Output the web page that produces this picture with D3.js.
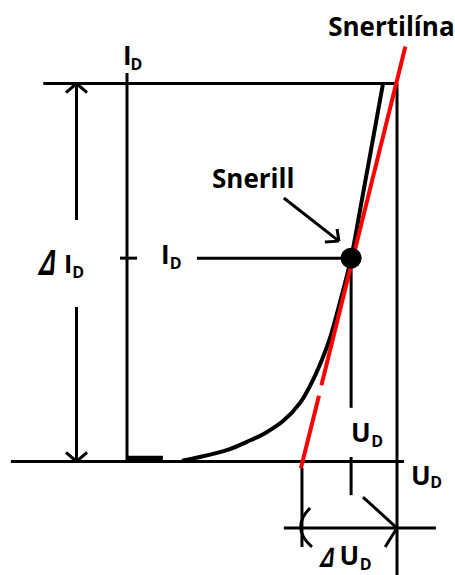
<!DOCTYPE html>
<html>
<head>
<meta charset="utf-8">
<script src="https://cdn.jsdelivr.net/npm/d3@7"></script>
<style>
  body { margin: 0; background: #fff; }
  text { font-family: "Open Sans", "Liberation Sans", sans-serif; font-weight: bold; fill: #000; }
</style>
</head>
<body>
<script>
(function(){

  //diode curve (U in % of span, I in % of span)
  var footU = [0, 13.3]; //flat start of the curve
  var footI = [0.9, 0.9];
  var curveU = [20.4, 27.0, 38.1, 44.4, 51.1, 57.8, 64.1, 68.9, 72.2, 75.2, 78.9, 83.0, 87.0, 94.8];
  var curveI = [0.2, 1.2, 3.3, 5.2, 7.5, 10.7, 15.5, 21.6, 26.9, 32.7, 42.2, 53.8, 69.2, 99.9];

  //operating point
  var pointU = 83.0, pointI = 53.8;

  //tangent line (two pieces, gap near the bottom)
  var tangentU = [[64.4, 71.1], [72.0, 103.1]];
  var tangentI = [[-1.8, 17.4], [20.2, 109.8]];

  //guide lines [u1, i1, u2, i2]
  var guides = [
    [-31, 100, 100, 100],      //top line
    [-43, 0, 102.6, 0],        //U axis
    [0, 102.8, 0, 0],          //I axis
    [100, 100, 100, -30.5],    //right line
    [-2.6, 53.8, 3.7, 53.8],   //tick on I axis
    [25.9, 53.8, 83.0, 53.8],  //leader from I label
    [83.0, 53.8, 83.0, 14.2],  //drop line
    [83.0, 1.2, 83.0, -8.9],   //drop line below axis
    [-18.7, 100, -18.7, 63.9], //delta I dimension
    [-18.7, 40.9, -18.7, 0],
    [-22.6, 97.6, -18.7, 100], //arrow heads
    [-14.8, 97.6, -18.7, 100],
    [-22.6, 2.4, -18.7, 0],
    [-14.8, 2.4, -18.7, 0],
    [64.8, -1.7, 64.8, -22.6], //delta U dimension
    [58.1, -17.6, 114.4, -17.6],
    [87.4, -9.4, 100, -17.6],
    [95.6, -22.6, 100, -17.6],
    [58.1, 69.7, 78.5, 58.3],  //arrow to operating point
    [73.3, 58.1, 78.5, 58.3],
    [77.8, 61.5, 78.5, 58.3]
  ];

  //the "(" on the left end of the delta U dimension: start, control, end
  var bracketU = [67.8, 60.5, 68.5];
  var bracketI = [-12.3, -17.6, -22.6];

  var width = 455,
      height = 575;

  var svg = d3.select("body")
    .append("svg")
    .attr("width", width)
    .attr("height", height);

  var x = d3.scaleLinear() //U_D
    .domain([0, 100])
    .range([127, 397]);

  var y = d3.scaleLinear() //I_D
    .domain([0, 100])
    .range([461.5, 83.5]);

  //guide lines
  svg.selectAll(".guide")
    .data(guides)
    .enter()
    .append("line")
    .attr("class", "guide")
    .attr("x1", function(d){ return x(d[0]); })
    .attr("y1", function(d){ return y(d[1]); })
    .attr("x2", function(d){ return x(d[2]); })
    .attr("y2", function(d){ return y(d[3]); })
    .attr("stroke", "#000")
    .attr("stroke-width", 3);

  var bracket = d3.path();
  bracket.moveTo(x(bracketU[0]), y(bracketI[0]));
  bracket.quadraticCurveTo(x(bracketU[1]), y(bracketI[1]), x(bracketU[2]), y(bracketI[2]));
  svg.append("path")
    .attr("d", bracket.toString())
    .attr("fill", "none")
    .attr("stroke", "#000")
    .attr("stroke-width", 3);

  //curve
  var line = d3.line()
    .x(function(d){ return x(d[0]); })
    .y(function(d){ return y(d[1]); });

  svg.append("path")
    .datum(d3.zip(footU, footI))
    .attr("d", line)
    .attr("fill", "none")
    .attr("stroke", "#000")
    .attr("stroke-width", 4.5);

  svg.append("path")
    .datum(d3.zip(curveU, curveI))
    .attr("d", line.curve(d3.curveCatmullRom.alpha(0.5)))
    .attr("fill", "none")
    .attr("stroke", "#000")
    .attr("stroke-width", 4);

  //tangent
  svg.selectAll(".tangent")
    .data(tangentU.map(function(u, k){ return d3.zip(u, tangentI[k]); }))
    .enter()
    .append("path")
    .attr("class", "tangent")
    .attr("d", d3.line().x(function(d){ return x(d[0]); }).y(function(d){ return y(d[1]); }))
    .attr("fill", "none")
    .attr("stroke", "#ff0000")
    .attr("stroke-width", 4);

  //operating point
  svg.append("circle")
    .attr("cx", x(pointU))
    .attr("cy", y(pointI))
    .attr("r", 10.5)
    .attr("fill", "#000");

  //labels
  function label(parts){
    var t = svg.append("text");
    parts.forEach(function(p){
      t.append("tspan")
        .attr("x", p.x)
        .attr("y", p.y)
        .style("font-size", p.size + "px")
        .text(p.txt);
    });
  }

  //slanted delta, drawn like a right triangle as in the original
  function delta(px, py, size, sx, skew){
    svg.append("text")
      .attr("transform", "translate(" + px + "," + py + ") skewX(" + (-skew) + ") scale(" + sx + ",1)")
      .style("font-size", size + "px")
      .text("Δ");
  }

  label([{txt: "Snertilína", x: x(74.5), y: 36, size: 26}]);
  label([{txt: "Snerill", x: x(31.5), y: 188, size: 26}]);

  label([{txt: "I", x: x(0) - 4, y: y(104.8), size: 26},
         {txt: "D", x: x(0) + 3.5, y: y(103.7), size: 16}]);

  label([{txt: "I", x: x(12.6), y: y(52.2), size: 26},
         {txt: "D", x: x(15.8), y: y(50.9), size: 16}]);

  delta(x(-33.3), y(49.3), 35, 0.72, 17);
  label([{txt: "I", x: x(-23.3), y: y(49.8), size: 25},
         {txt: "D", x: x(-20.3), y: y(48.5), size: 16}]);

  label([{txt: "U", x: x(83), y: y(5.2), size: 26},
         {txt: "D", x: x(90.5), y: y(3.8), size: 16}]);

  label([{txt: "U", x: x(105.2), y: y(-6.2), size: 26},
         {txt: "D", x: x(112.3), y: y(-7), size: 16}]);

  delta(x(70.9), y(-27.9), 27, 0.78, 19);
  label([{txt: "U", x: x(78.7), y: y(-27.5), size: 26},
         {txt: "D", x: x(86.2), y: y(-28.6), size: 16}]);

})();
</script>
</body>
</html>
